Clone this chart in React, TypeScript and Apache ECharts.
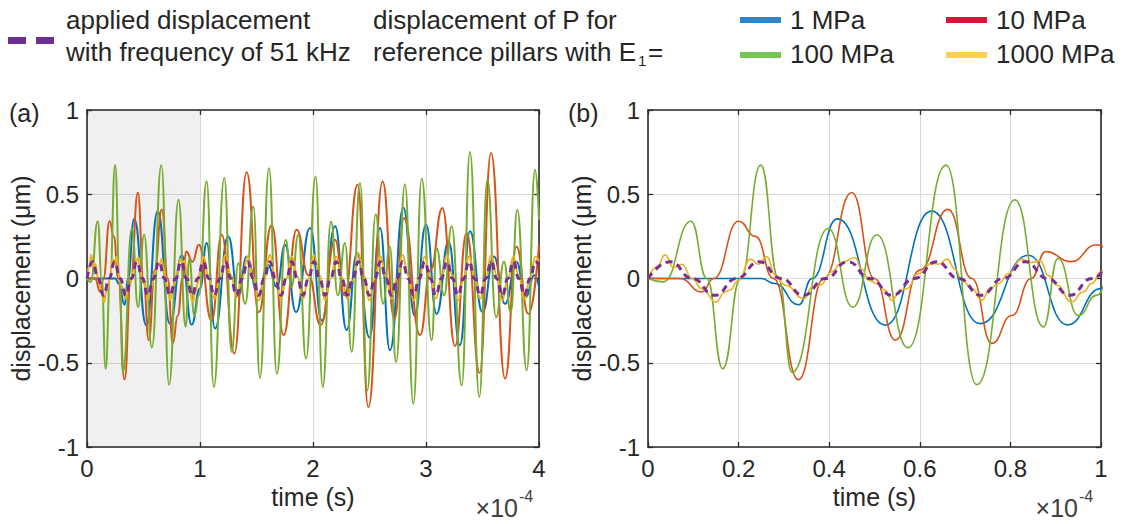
import React, { useEffect, useRef } from "react";
import * as echarts from "echarts";

// time is expressed in units of 1e-4 s (axis shows ×10^-4)
const xTicksA = { min: 0, max: 4, step: 1 };
const xTicksB = { min: 0, max: 1, step: 0.2 };
const yTicks = { min: -1, max: 1, step: 0.5 };
const shadedRange = [0, 1];

const seriesNames = ["1 MPa", "10 MPa", "100 MPa", "1000 MPa", "applied displacement"];

// applied displacement, 51 kHz
const applied: [number, number][] = [
  [0, 0], [0.049, 0.1], [0.098, 0], [0.147, -0.1], [0.196, 0], [0.245, 0.1], [0.294, 0], [0.343, -0.1],
  [0.392, 0], [0.441, 0.1], [0.49, 0], [0.539, -0.1], [0.588, 0], [0.637, 0.1], [0.686, 0], [0.735, -0.1],
  [0.784, 0], [0.833, 0.1], [0.882, 0], [0.931, -0.1], [0.98, 0], [1.029, 0.1], [1.078, 0], [1.127, -0.1],
  [1.176, 0], [1.225, 0.1], [1.274, 0], [1.323, -0.1], [1.372, 0], [1.421, 0.1], [1.47, 0], [1.519, -0.1],
  [1.568, 0], [1.617, 0.1], [1.666, 0], [1.715, -0.1], [1.764, 0], [1.813, 0.1], [1.862, 0], [1.911, -0.1],
  [1.96, 0], [2.009, 0.1], [2.058, 0], [2.107, -0.1], [2.156, 0], [2.205, 0.1], [2.254, 0], [2.303, -0.1],
  [2.352, 0], [2.401, 0.1], [2.45, 0], [2.499, -0.1], [2.548, 0], [2.597, 0.1], [2.646, 0], [2.695, -0.1],
  [2.744, 0], [2.793, 0.1], [2.842, 0], [2.891, -0.1], [2.94, 0], [2.989, 0.1], [3.038, 0], [3.087, -0.1],
  [3.136, 0], [3.185, 0.1], [3.234, 0], [3.283, -0.1], [3.332, 0], [3.381, 0.1], [3.43, 0], [3.479, -0.1],
  [3.528, 0], [3.577, 0.1], [3.626, 0], [3.675, -0.1], [3.724, 0], [3.773, 0.1], [3.822, 0], [3.871, -0.1],
  [3.92, 0], [3.969, 0.1], [4.0, 0.08],
];

// E1 = 1 MPa
const mpa1: [number, number][] = [
  [0, 0], [0.25, 0], [0.28, -0.03], [0.333, -0.156], [0.362, 0], [0.418, 0.354], [0.524, -0.277],
  [0.626, 0.4], [0.733, -0.268], [0.84, 0.138], [0.926, -0.275], [1.0, -0.06], [1.059, 0.21],
  [1.133, -0.297], [1.25, 0.25], [1.34, -0.1], [1.413, 0.13], [1.516, -0.1], [1.6, 0.08], [1.68, -0.05],
  [1.752, 0.2], [1.85, -0.2], [1.973, 0.3], [2.08, -0.25], [2.195, 0.31], [2.298, -0.306], [2.39, 0.15],
  [2.5, -0.35], [2.593, 0.3], [2.681, -0.426], [2.8, 0.42], [2.9, -0.22], [3.0, 0.32], [3.094, -0.21],
  [3.2, 0.22], [3.3, -0.396], [3.389, 0.28], [3.5, -0.2], [3.6, 0.13], [3.7, -0.15], [3.8, 0.1],
  [3.88, -0.11], [3.96, 0.02], [4.0, -0.05],
];

// E1 = 10 MPa
const mpa10: [number, number][] = [
  [0, 0], [0.07, 0], [0.119, -0.08], [0.145, 0], [0.2, 0.34], [0.237, 0.25], [0.277, 0], [0.332, -0.6],
  [0.388, 0], [0.45, 0.51], [0.5, 0], [0.546, -0.366], [0.6, 0.05], [0.662, 0.41], [0.715, 0],
  [0.759, -0.385], [0.803, -0.22], [0.846, 0], [0.878, 0.16], [0.934, 0.1], [0.99, 0.2], [1.103, -0.25],
  [1.192, 0.26], [1.304, -0.445], [1.413, 0.63], [1.52, -0.2], [1.634, 0.318], [1.74, -0.336],
  [1.855, 0.29], [1.96, 0.02], [2.068, -0.277], [2.195, 0.23], [2.28, -0.1], [2.395, 0.556],
  [2.49, -0.763], [2.616, 0.576], [2.72, -0.24], [2.806, 0.358], [2.947, -0.336], [3.04, 0.05],
  [3.145, 0.418], [3.257, -0.4], [3.36, 0.27], [3.475, -0.56], [3.575, 0.745], [3.7, -0.594],
  [3.8, 0.19], [3.906, -0.21], [4.0, 0.2],
];

// E1 = 100 MPa
const mpa100: [number, number][] = [
  [0, 0], [0.034, -0.02], [0.095, 0.34], [0.13, 0], [0.165, -0.536], [0.204, 0], [0.249, 0.673],
  [0.288, 0], [0.318, -0.556], [0.398, 0.297], [0.452, -0.17], [0.505, 0.26], [0.574, -0.41],
  [0.658, 0.673], [0.726, -0.63], [0.81, 0.467], [0.873, -0.287], [0.905, 0.12], [0.95, -0.22],
  [0.99, -0.1], [1.059, 0.577], [1.122, -0.644], [1.215, 0.597], [1.28, -0.435], [1.339, 0.09],
  [1.4, -0.15], [1.472, 0.428], [1.53, -0.59], [1.611, 0.655], [1.68, -0.565], [1.758, 0.229],
  [1.81, -0.05], [1.87, 0.26], [1.938, -0.475], [2.023, 0.606], [2.086, -0.644], [2.159, 0.338],
  [2.22, -0.1], [2.283, 0.21], [2.342, -0.435], [2.416, 0.567], [2.48, -0.664], [2.555, 0.382],
  [2.62, -0.15], [2.68, 0.19], [2.735, -0.495], [2.814, 0.56], [2.888, -0.743], [2.962, 0.592],
  [3.05, -0.366], [3.094, 0.18], [3.16, -0.1], [3.227, 0.31], [3.316, -0.634], [3.389, 0.751],
  [3.472, -0.703], [3.543, 0.586], [3.62, -0.23], [3.69, 0.1], [3.75, -0.2], [3.808, 0.408],
  [3.891, -0.545], [3.965, 0.646], [4.0, 0.35],
];

// E1 = 1000 MPa
const mpa1000: [number, number][] = [
  [0, 0], [0.02, 0.07], [0.038, 0.14], [0.056, 0.066], [0.075, 0.085], [0.097, 0], [0.119, -0.06],
  [0.15, -0.14], [0.17, -0.08], [0.18, -0.07], [0.2, -0.01], [0.226, 0.115], [0.244, 0.085],
  [0.262, 0.13], [0.281, 0.02], [0.303, -0.04], [0.345, -0.12], [0.362, -0.05], [0.38, -0.04],
  [0.406, 0.04], [0.428, 0.095], [0.457, 0.125], [0.472, 0.056], [0.487, -0.01], [0.505, -0.03],
  [0.524, -0.07], [0.538, -0.13], [0.557, -0.07], [0.571, -0.06], [0.597, 0.03], [0.627, 0.09],
  [0.642, 0.085], [0.66, 0.115], [0.678, 0.056], [0.693, -0.01], [0.715, -0.06], [0.737, -0.13],
  [0.755, -0.06], [0.774, -0.03], [0.796, 0.03], [0.825, 0.115], [0.844, 0.095], [0.866, 0.105],
  [0.884, 0.017], [0.903, -0.04], [0.935, -0.14], [0.96, -0.08], [0.98, -0.03], [1.0, 0.04],
  [1.029, 0.13], [1.078, 0.01], [1.127, -0.12], [1.176, 0], [1.225, 0.14], [1.274, 0.02],
  [1.323, -0.11], [1.372, 0], [1.421, 0.13], [1.47, 0.01], [1.519, -0.13], [1.568, -0.01],
  [1.617, 0.14], [1.666, 0.02], [1.715, -0.12], [1.764, 0], [1.813, 0.13], [1.862, 0.01],
  [1.911, -0.12], [1.96, 0], [2.009, 0.14], [2.058, 0.02], [2.107, -0.13], [2.156, 0], [2.205, 0.13],
  [2.254, 0.01], [2.303, -0.12], [2.352, -0.01], [2.401, 0.15], [2.45, 0.02], [2.499, -0.13],
  [2.548, 0], [2.597, 0.13], [2.646, 0.01], [2.695, -0.12], [2.744, 0], [2.793, 0.14], [2.842, 0.02],
  [2.891, -0.13], [2.94, 0], [2.989, 0.13], [3.038, 0.01], [3.087, -0.12], [3.136, 0], [3.185, 0.14],
  [3.234, 0.02], [3.283, -0.13], [3.332, -0.01], [3.381, 0.13], [3.43, 0.01], [3.479, -0.12],
  [3.528, 0], [3.577, 0.14], [3.626, 0.02], [3.675, -0.13], [3.724, 0], [3.773, 0.13], [3.822, 0.01],
  [3.871, -0.12], [3.92, 0], [3.969, 0.13], [4.0, 0.1],
];

const lineColors = ["#0072BD", "#D95319", "#77AC30", "#EDB120", "#7E2F8E"];
const swatchColors = ["#2D86C8", "#D7173A", "#78C25A", "#F8D151", "#6B2F96"];

const FONT = '"Liberation Sans", Arial, Helvetica, sans-serif';
const TXT = "#262626";
const FS_LEG = 26;
const FS_TICK = 24;
const FS_NAME = 25;

export default function App() {
  const ref = useRef<HTMLDivElement>(null);

  useEffect(() => {
    if (!ref.current) return;
    const chart = echarts.init(ref.current, undefined, { renderer: "svg" });

    const grids = [
      { left: 87, top: 110, width: 452, height: 337 },
      { left: 648, top: 110, width: 453, height: 337 },
    ];
    const xr = [xTicksA, xTicksB];

    const axisLine = { show: true, onZero: false, lineStyle: { color: "#2b2b2b", width: 1.6 } };
    const tickIn = { show: true, inside: true, length: 5, lineStyle: { color: "#2b2b2b", width: 1.3 } };
    const splitLine = { show: true, lineStyle: { color: "#DADADA", width: 1 } };

    const xAxis: any[] = [];
    const yAxis: any[] = [];
    grids.forEach((g, i) => {
      const r = xr[i];
      xAxis.push({
        type: "value", gridIndex: i, min: r.min, max: r.max, interval: r.step, position: "bottom",
        axisLine, axisTick: tickIn, splitLine,
        axisLabel: { color: TXT, fontSize: FS_TICK, fontFamily: FONT, margin: 9,
          formatter: (v: number) => String(Math.round(v * 10) / 10) },
        name: "time (s)", nameLocation: "middle", nameGap: 37,
        nameTextStyle: { color: TXT, fontSize: FS_NAME, fontFamily: FONT },
      });
      xAxis.push({
        type: "value", gridIndex: i, min: r.min, max: r.max, interval: r.step, position: "top",
        axisLine, axisTick: tickIn, splitLine: { show: false }, axisLabel: { show: false },
      });
      yAxis.push({
        type: "value", gridIndex: i, min: yTicks.min, max: yTicks.max, interval: yTicks.step, position: "left",
        axisLine, axisTick: tickIn, splitLine,
        axisLabel: { color: TXT, fontSize: FS_TICK, fontFamily: FONT, margin: 8 },
        name: "displacement (μm)", nameLocation: "middle", nameGap: 50,
        nameTextStyle: { color: TXT, fontSize: FS_NAME, fontFamily: FONT },
      });
      yAxis.push({
        type: "value", gridIndex: i, min: yTicks.min, max: yTicks.max, interval: yTicks.step, position: "right",
        axisLine, axisTick: tickIn, splitLine: { show: false }, axisLabel: { show: false },
      });
    });

    const datasets = [mpa1, mpa10, mpa100, mpa1000, applied];
    const series: any[] = [
      {
        type: "line", xAxisIndex: 0, yAxisIndex: 0, data: [], z: 1, silent: true,
        markArea: {
          silent: true,
          itemStyle: { color: "rgba(0,0,0,0.06)" },
          data: [[{ xAxis: shadedRange[0] }, { xAxis: shadedRange[1] }]],
        },
      },
    ];
    [0, 1].forEach((gi) => {
      datasets.forEach((d, si) => {
        const isApplied = si === 4;
        series.push({
          name: seriesNames[si],
          type: "line",
          xAxisIndex: gi * 2,
          yAxisIndex: gi * 2,
          data: d,
          symbol: "none",
          showSymbol: false,
          smooth: 0.5,
          smoothMonotone: "x",
          silent: true,
          z: 2 + si,
          lineStyle: isApplied
            ? { color: lineColors[si], width: 3, type: [7, 5] }
            : { color: lineColors[si], width: gi === 0 ? 2 : 1.6 },
        });
      });
    });

    const t = (text: string, x: number, y: number, size: number, extra: any = {}) => ({
      type: "text", x, y, silent: true,
      style: { text, fill: TXT, font: `${size}px ${FONT}`, textVerticalAlign: "middle", verticalAlign: "middle", ...extra },
    });

    const graphic: any[] = [
      // legend
      { type: "rect", shape: { x: 8, y: 37, width: 18, height: 7 }, style: { fill: swatchColors[4] } },
      { type: "rect", shape: { x: 36, y: 37, width: 18, height: 7 }, style: { fill: swatchColors[4] } },
      t("applied displacement", 66, 20, FS_LEG),
      t("with frequency of 51 kHz", 66, 52, FS_LEG),
      t("displacement of P for", 373, 20, FS_LEG),
      t("reference pillars with E", 373, 52, FS_LEG),
      t("1", 638, 60, 15),
      t("=", 648, 52, FS_LEG),
      { type: "rect", shape: { x: 740, y: 17, width: 41, height: 6 }, style: { fill: swatchColors[0] } },
      t("1 MPa", 790, 20, FS_LEG),
      { type: "rect", shape: { x: 946, y: 17, width: 41, height: 6 }, style: { fill: swatchColors[1] } },
      t("10 MPa", 996, 20, FS_LEG),
      { type: "rect", shape: { x: 740, y: 52, width: 41, height: 6 }, style: { fill: swatchColors[2] } },
      t("100 MPa", 790, 54, FS_LEG),
      { type: "rect", shape: { x: 946, y: 52, width: 41, height: 6 }, style: { fill: swatchColors[3] } },
      t("1000 MPa", 996, 54, FS_LEG),
      // panel letters
      t("(a)", 9, 113, FS_NAME),
      t("(b)", 568, 113, FS_NAME),
    ];
    [518, 1078].forEach((xr2) => {
      graphic.push(t("×10", xr2, 508, FS_NAME, { textAlign: "right", align: "right", fill: "#404040" }));
      graphic.push(t("-4", xr2 + 1, 496, 16, { fill: "#404040" }));
    });

    chart.setOption({
      animation: false,
      backgroundColor: "#ffffff",
      grid: grids.map((g) => ({ ...g, containLabel: false })),
      xAxis,
      yAxis,
      series,
      graphic,
    });

    return () => chart.dispose();
  }, []);

  return (
    <div
      ref={ref}
      style={{ position: "fixed", left: 0, top: 0, width: 1126, height: 524, background: "#fff" }}
    />
  );
}
